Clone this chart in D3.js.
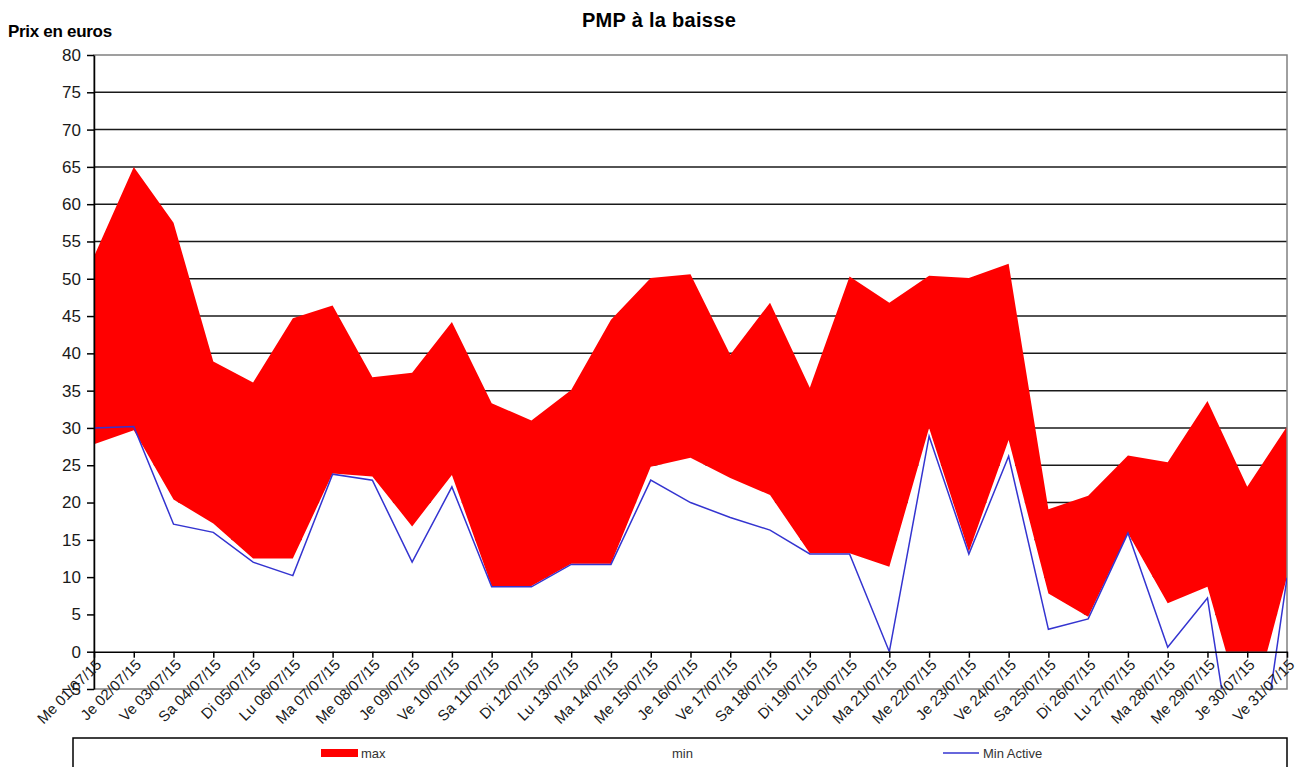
<!DOCTYPE html>
<html>
<head>
<meta charset="utf-8">
<script src="https://cdn.jsdelivr.net/npm/d3@7"></script>
<style>
  body { margin: 0; background: #fff; }
  text { font-family: "Liberation Sans", Arial, sans-serif; }
</style>
</head>
<body>
<div id="chart-area"></div>
<script>
// dates (x categories)
const dates = ["Me 01/07/15","Je 02/07/15","Ve 03/07/15","Sa 04/07/15","Di 05/07/15","Lu 06/07/15",
  "Ma 07/07/15","Me 08/07/15","Je 09/07/15","Ve 10/07/15","Sa 11/07/15","Di 12/07/15","Lu 13/07/15",
  "Ma 14/07/15","Me 15/07/15","Je 16/07/15","Ve 17/07/15","Sa 18/07/15","Di 19/07/15","Lu 20/07/15",
  "Ma 21/07/15","Me 22/07/15","Je 23/07/15","Ve 24/07/15","Sa 25/07/15","Di 26/07/15","Lu 27/07/15",
  "Ma 28/07/15","Me 29/07/15","Je 30/07/15","Ve 31/07/15"]

// stacked area series : "min" (white, bottom) then "max" (red, on top of min)
const minValues = [27.8, 29.7, 20.4, 17.2, 12.5, 12.5, 23.9, 23.5, 16.8, 23.7, 8.8, 8.8, 11.8, 11.8, 24.8, 26.0,
  23.3, 21.0, 13.2, 13.2, 11.4, 30.0, 13.4, 28.4, 7.8, 4.7, 15.9, 6.5, 8.7, -10, 10]
const maxValues = [25.2, 35.3, 37.1, 21.7, 23.6, 32.2, 22.5, 13.3, 20.6, 20.5, 24.5, 22.2, 23.3, 32.7, 25.3, 24.6,
  16.5, 25.8, 22.2, 37.1, 35.4, 20.4, 36.7, 23.6, 11.3, 16.2, 10.4, 18.9, 24.9, 32.1, 20.2]

// line series
const minActive = [30.0, 30.2, 17.1, 16.0, 12.0, 10.2, 23.8, 23.0, 12.0, 22.1, 8.7, 8.7, 11.7, 11.7, 23.0, 20.0,
  18.0, 16.3, 13.1, 13.1, 0, 28.9, 13.1, 26.2, 3.0, 4.4, 15.9, 0.6, 7.2, -27, 9.9]

const yTicks = [-5, 0, 5, 10, 15, 20, 25, 30, 35, 40, 45, 50, 55, 60, 65, 70, 75, 80]

const MARGIN = { LEFT: 94, RIGHT: 12, TOP: 55, BOTTOM: 78 }
const WIDTH = 1299 - MARGIN.LEFT - MARGIN.RIGHT
const HEIGHT = 767 - MARGIN.TOP - MARGIN.BOTTOM

const svg = d3.select("#chart-area").append("svg")
    .attr("width", WIDTH + MARGIN.LEFT + MARGIN.RIGHT)
    .attr("height", HEIGHT + MARGIN.TOP + MARGIN.BOTTOM)

// title + y label
svg.append("text")
    .attr("x", 659)
    .attr("y", 27)
    .attr("text-anchor", "middle")
    .attr("font-size", "20px")
    .attr("font-weight", "bold")
    .attr("letter-spacing", "0.3")
    .text("PMP à la baisse")

svg.append("text")
    .attr("x", 8)
    .attr("y", 37)
    .attr("font-size", "17px")
    .attr("font-weight", "bold")
    .attr("letter-spacing", "-0.3")
    .text("Prix en euros")

const g = svg.append("g")
    .attr("transform", `translate(${MARGIN.LEFT}, ${MARGIN.TOP})`)

const x = d3.scalePoint()
    .domain(dates)
    .range([0, WIDTH])

const y = d3.scaleLinear()
    .domain([-5, 80])
    .range([HEIGHT, 0])

// clips
g.append("clipPath").attr("id", "clip-pos")
  .append("rect")
    .attr("x", 0).attr("y", 0)
    .attr("width", WIDTH).attr("height", y(0))
g.append("clipPath").attr("id", "clip-plot")
  .append("rect")
    .attr("x", 0).attr("y", 0)
    .attr("width", WIDTH).attr("height", HEIGHT)

// gridlines
g.append("g")
  .selectAll("line")
  .data(yTicks.filter(d => d > 0 && d < 80))
  .enter().append("line")
    .attr("x1", 0)
    .attr("x2", WIDTH)
    .attr("y1", d => y(d))
    .attr("y2", d => y(d))
    .attr("stroke", "#1a1a1a")
    .attr("stroke-width", 1.5)

// stacked areas
const table = dates.map((d, i) => ({ date: d, min: minValues[i], max: maxValues[i] }))
const series = d3.stack().keys(["min", "max"])(table)

const area = d3.area()
    .x(d => x(d.data.date))
    .y0(d => y(d[0]))
    .y1(d => y(d[1]))

g.append("g")
    .attr("clip-path", "url(#clip-pos)")
  .selectAll("path")
  .data(series)
  .enter().append("path")
    .attr("d", area)
    .attr("fill", d => d.key === "max" ? "#ff0000" : "#ffffff")

// plot border
g.append("rect")
    .attr("x", 0).attr("y", 0)
    .attr("width", WIDTH).attr("height", HEIGHT)
    .attr("fill", "none")
    .attr("stroke", "#808080")
    .attr("stroke-width", 1.5)

// Min Active line
const line = d3.line()
    .x((d, i) => x(dates[i]))
    .y(d => y(d))

g.append("path")
    .datum(minActive)
    .attr("clip-path", "url(#clip-plot)")
    .attr("d", line)
    .attr("fill", "none")
    .attr("stroke", "#3434d0")
    .attr("stroke-width", 1.5)

// y axis
const yAxisCall = d3.axisLeft(y)
    .tickValues(yTicks)
    .tickSize(7)
    .tickSizeOuter(0)
    .tickPadding(6)
const yAxis = g.append("g").call(yAxisCall)
yAxis.selectAll("path, line").attr("stroke", "#000").attr("stroke-width", 1.5)
yAxis.selectAll("text")
    .attr("font-size", "17px")
    .attr("font-family", "'Liberation Sans', Arial, sans-serif")
    .attr("fill", "#1a1a1a")

// x axis at 0
const xAxisCall = d3.axisBottom(x)
    .tickSize(6)
    .tickSizeOuter(0)
const xAxis = g.append("g")
    .attr("transform", `translate(0, ${y(0)})`)
    .call(xAxisCall)
xAxis.selectAll("path, line").attr("stroke", "#000").attr("stroke-width", 1.5)
xAxis.selectAll("text")
    .attr("x", 0)
    .attr("y", 0)
    .attr("dy", null)
    .attr("text-anchor", "end")
    .attr("transform", "translate(8, 14) rotate(-45)")
    .attr("font-size", "15px")
    .attr("font-family", "'Liberation Sans', Arial, sans-serif")
    .attr("fill", "#1a1a1a")

// legend
const legend = svg.append("g")
legend.append("rect")
    .attr("x", 73).attr("y", 738)
    .attr("width", 1214).attr("height", 40)
    .attr("fill", "#fff")
    .attr("stroke", "#000")
    .attr("stroke-width", 1.5)
legend.append("rect")
    .attr("x", 321).attr("y", 749)
    .attr("width", 37).attr("height", 8)
    .attr("fill", "#ff0000")
legend.append("text")
    .attr("x", 361).attr("y", 758)
    .attr("font-size", "13px")
    .attr("fill", "#333")
    .text("max")
legend.append("text")
    .attr("x", 672).attr("y", 758)
    .attr("font-size", "13px")
    .attr("fill", "#333")
    .text("min")
legend.append("line")
    .attr("x1", 943).attr("x2", 979)
    .attr("y1", 753).attr("y2", 753)
    .attr("stroke", "#3434d0")
    .attr("stroke-width", 1.5)
legend.append("text")
    .attr("x", 983).attr("y", 758)
    .attr("font-size", "13px")
    .attr("fill", "#333")
    .text("Min Active")
</script>
</body>
</html>
